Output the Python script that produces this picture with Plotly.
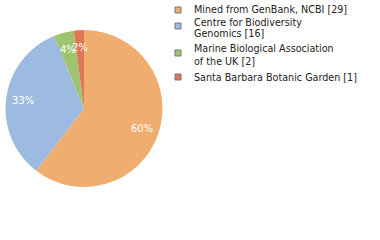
import math
import plotly.graph_objects as go

labels = ["Mined from GenBank, NCBI [29]", "Centre for Biodiversity<br>Genomics [16]",
          "Marine Biological Association<br>of the UK [2]", "Santa Barbara Botanic Garden [1]"]
values = [29, 16, 2, 1]
colors = ["#EFAD6F", "#9DBBE0", "#9DC46F", "#E07558"]

W, H = 380, 240
fig = go.Figure()
fig.add_trace(go.Pie(
    labels=labels, values=values, sort=False, direction="clockwise", rotation=0,
    marker=dict(colors=colors, line=dict(width=0)),
    textinfo="none",
    domain=dict(x=[5/W, 163/W], y=[1-187/H, 1-30/H]),
    showlegend=False, hoverinfo="skip",
))

# percentage labels placed inside each slice
cx, cy, r, f = 84, 108.5, 78.5, 0.78
total = sum(values)
cum = 0
for v in values:
    mid = (cum + v / 2) / total * 2 * math.pi
    cum += v
    px = cx + r * f * math.sin(mid)
    py = cy - r * f * math.cos(mid)
    fig.add_annotation(xref="paper", yref="paper", x=px / W, y=1 - py / H,
                       text=f"{round(100 * v / total)}%", showarrow=False,
                       xanchor="center", yanchor="middle",
                       font=dict(family="DejaVu Sans", size=10, color="white"))

# legend
ys = [10, 26, 53, 77]
lines_y = [[10], [22, 34], [49, 61], [77]]
for i, (lab, c) in enumerate(zip(labels, colors)):
    yc = ys[i]
    fig.add_shape(type="rect", xref="paper", yref="paper",
                  x0=175/W, x1=181/W, y0=1-(yc+3)/H, y1=1-(yc-3)/H,
                  fillcolor=c, line=dict(color="#777777", width=1))
    for j, part in enumerate(lab.split("<br>")):
        fig.add_annotation(xref="paper", yref="paper", x=192/W, y=1-lines_y[i][j]/H,
                           text=part, showarrow=False, xanchor="left", yanchor="middle",
                           font=dict(family="DejaVu Sans", size=9.6, color="#222222"))

fig.update_layout(width=W, height=H, margin=dict(l=0, r=0, t=0, b=0),
                  paper_bgcolor="white", plot_bgcolor="white")
fig.write_html("out.html")
